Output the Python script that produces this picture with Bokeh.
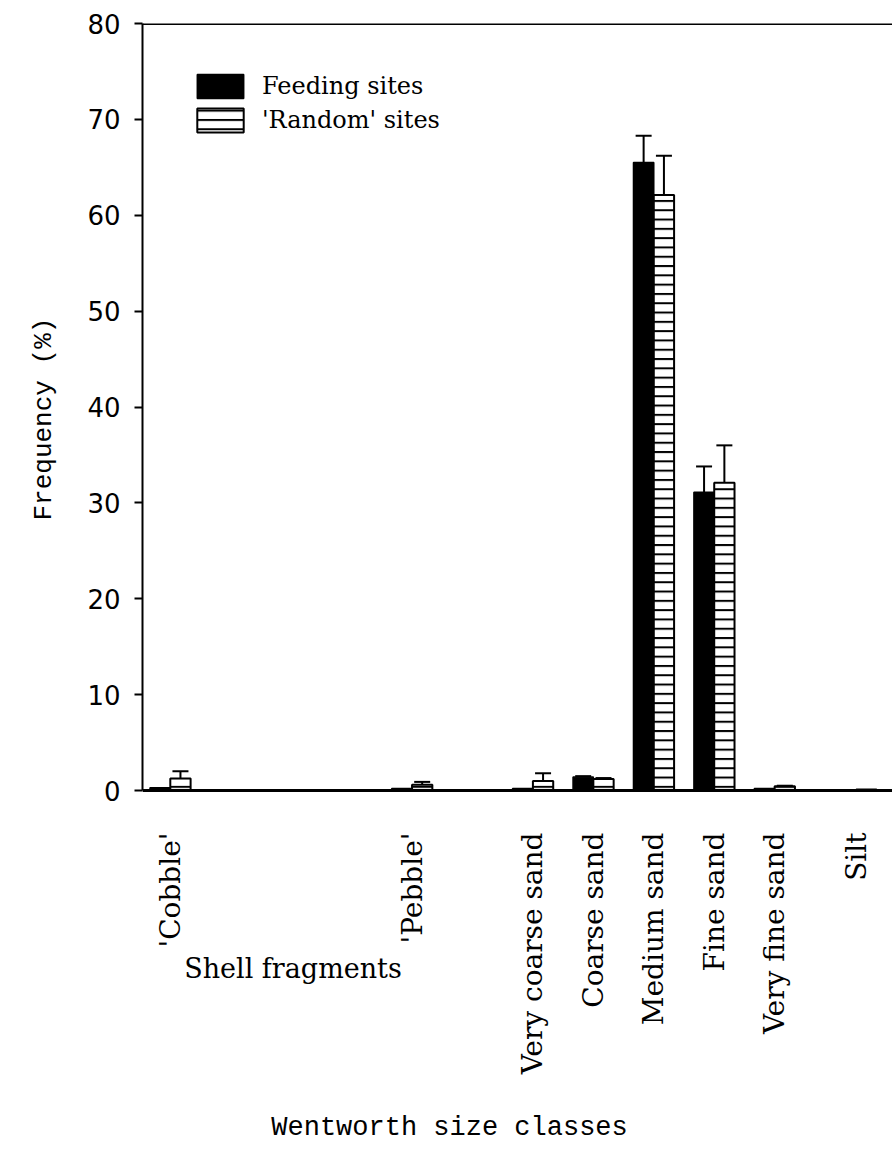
import math
from bokeh.plotting import figure
from bokeh.models import (FixedTicker, Span, Legend, LegendItem, Whisker, Label, Title,
                          ColumnDataSource, TeeHead, Range1d)
from bokeh.embed import file_html
from bokeh.resources import INLINE

# ---------------- data ----------------
categories = ["'Cobble'", "'Pebble'", "Very coarse sand", "Coarse sand",
              "Medium sand", "Fine sand", "Very fine sand", "Silt"]
feeding = [0.3, 0.2, 0.2, 1.4, 65.5, 31.1, 0.2, 0.05]
feeding_err = [0.0, 0.0, 0.0, 0.1, 2.8, 2.7, 0.0, 0.0]
random_sites = [1.25, 0.6, 1.0, 1.2, 62.1, 32.1, 0.45, 0.1]
random_err = [0.75, 0.3, 0.8, 0.1, 4.1, 3.9, 0.05, 0.0]
y_ticks = [0, 10, 20, 30, 40, 50, 60, 70, 80]
series_names = ["Feeding sites", "'Random' sites"]
group_note = "Shell fragments"
x_title = "Wentworth size classes"
y_title = "Frequency (%)"

# ---------------- layout ----------------
slots = [0, 4, 6, 7, 8, 9, 10, 11.35]
BW = 0.336
Y_BOTTOM = -37.65      # frame extends below the baseline to hold the class labels
MONO = "Courier New, Liberation Mono, Nimbus Mono PS, FreeMono, Courier, monospace"

p = figure(width=892, height=1151, x_range=Range1d(-0.46, 11.95),
           y_range=Range1d(Y_BOTTOM, 80),
           output_backend="svg", toolbar_location=None,
           min_border_left=135, min_border_right=0, min_border_top=23, min_border_bottom=0)
p.grid.visible = False
p.outline_line_color = None
p.background_fill_color = "white"
p.border_fill_color = "white"

# y axis
ya = p.yaxis[0]
ya.ticker = FixedTicker(ticks=y_ticks)
ya.bounds = (0, 80)
ya.axis_line_width = 2
ya.major_tick_line_width = 2
ya.major_tick_out = 8
ya.major_tick_in = 0
ya.minor_tick_line_color = None
ya.major_label_text_font = "DejaVu Sans"
ya.major_label_text_font_size = "26px"
ya.major_label_text_color = "black"
ya.major_label_standoff = 14

# y title, placed alongside the 0-80 span of the axis
p.add_layout(Title(text=y_title, align="left", offset=631, standoff=52,
                   text_font=MONO, text_font_size="26px",
                   text_font_style="normal", text_color="black"), "left")

# x axis (category labels), drawn at the zero line
xa = p.xaxis[0]
xa.fixed_location = 0
xa.ticker = FixedTicker(ticks=slots)
xa.major_label_overrides = {s: c for s, c in zip(slots, categories)}
xa.major_label_orientation = math.pi / 2
xa.major_tick_out = 0
xa.major_tick_in = 0
xa.major_tick_line_color = None
xa.minor_tick_line_color = None
xa.axis_line_width = 3
xa.major_label_text_font = "DejaVu Serif"
xa.major_label_text_font_size = "28px"
xa.major_label_text_color = "black"
xa.major_label_standoff = 42

# bars
src_f = ColumnDataSource(dict(x=[s - BW / 2 for s in slots], top=feeding,
                              upper=[v + e for v, e in zip(feeding, feeding_err)]))
src_r = ColumnDataSource(dict(x=[s + BW / 2 for s in slots], top=random_sites,
                              upper=[v + e for v, e in zip(random_sites, random_err)]))

r_f = p.vbar(x="x", top="top", width=BW, source=src_f,
             fill_color="black", line_color="black", line_width=1.5)
r_r = p.vbar(x="x", top="top", width=BW, source=src_r,
             fill_color="white", line_color="black", line_width=2,
             hatch_pattern="horizontal_line", hatch_color="black",
             hatch_weight=2, hatch_scale=9.3)

# error bars (upper only)
for src, errs in ((src_f, feeding_err), (src_r, random_err)):
    idx = [i for i, e in enumerate(errs) if e > 0]
    sub = ColumnDataSource(dict(x=[src.data["x"][i] for i in idx],
                                top=[src.data["top"][i] for i in idx],
                                upper=[src.data["upper"][i] for i in idx]))
    w = Whisker(source=sub, base="x", lower="top", upper="upper", dimension="height",
                line_width=2, line_color="black",
                upper_head=TeeHead(size=16, line_width=2, line_color="black"),
                lower_head=None)
    p.add_layout(w)

# top frame line
p.add_layout(Span(location=80, dimension="width", line_color="black", line_width=3))

# legend
legend = Legend(items=[LegendItem(label=series_names[0], renderers=[r_f]),
                       LegendItem(label=series_names[1], renderers=[r_r])],
                location=(49, 1016), glyph_width=58, glyph_height=30,
                label_text_font="DejaVu Serif", label_text_font_size="24px",
                label_text_color="black", label_standoff=13, spacing=4,
                padding=0, margin=0, border_line_color=None,
                background_fill_alpha=0)
p.add_layout(legend)

# texts below the baseline
p.add_layout(Label(x=2.03, y=-16.9, text=group_note, text_align="center",
                   text_baseline="top", text_font="DejaVu Serif",
                   text_font_size="27px", text_color="black"))
p.add_layout(Label(x=4.62, y=-35.2, text=x_title, text_align="center",
                   text_baseline="middle", text_font=MONO,
                   text_font_size="27px", text_color="black"))

open("out.html", "w").write(file_html(p, INLINE))
